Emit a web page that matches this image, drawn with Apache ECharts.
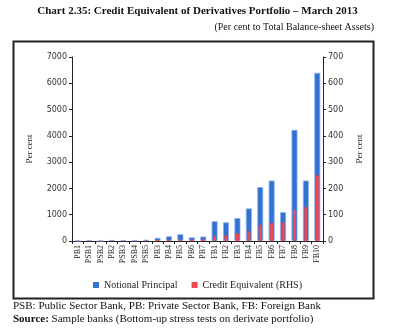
<!DOCTYPE html>
<html>
<head>
<meta charset="utf-8">
<script src="https://cdn.jsdelivr.net/npm/echarts@6/dist/echarts.min.js"></script>
<style>
html,body{margin:0;padding:0;background:#fff;}
#c{width:395px;height:334px;}
</style>
</head>
<body>
<div id="c"></div>
<script>
const categories = ['PB1','PSB1','PSB2','PB2','PSB3','PSB4','PSB5','PB3','PB4','PB5','PB6','PB7','FB1','FB2','FB3','FB4','FB5','FB6','FB7','FB8','FB9','FB10'];
const notionalPrincipal = [10,30,10,40,30,20,50,120,180,260,140,170,750,710,870,1240,2050,2300,1100,4230,2300,6400];
const creditEquivalent = [1,1,1,2,1,1,2,4,5,6,5,6,20,22,29,37,61,68,70,118,129,250];
const leftTicks = {min:0, max:7000, interval:1000};
const rightTicks = {min:0, max:700, interval:100};

const serif = '"Liberation Serif", "DejaVu Serif", serif';
const sans = '"DejaVu Sans", Verdana, sans-serif';

const chart = echarts.init(document.getElementById('c'), null, {renderer:'canvas'});
chart.setOption({
  animation:false,
  backgroundColor:'#fff',
  graphic:[
    {type:'rect', shape:{x:13.5,y:41.5,width:360,height:257}, style:{fill:'none',stroke:'#222',lineWidth:2}, z:-1},
    {type:'text', left:'center', top:6, style:{text:'Chart 2.35: Credit Equivalent of Derivatives Portfolio \u2013 March 2013', font:'bold 11px '+serif, fill:'#111'}},
    {type:'text', right:21, top:22, style:{text:'(Per cent to Total Balance-sheet Assets)', font:'10px '+serif, fill:'#111'}},
    {type:'text', left:13, top:301, style:{text:'PSB: Public Sector Bank, PB: Private Sector Bank, FB: Foreign Bank', font:'11px '+serif, fill:'#111'}},
    {type:'text', left:13, top:314, style:{text:'{b|Source:} Sample banks (Bottom-up stress tests on derivate portfolio)', font:'11px '+serif, fill:'#111', rich:{b:{font:'bold 11px '+serif, fill:'#111'}}}}
  ],
  legend:{
    top:275, left:'center', itemWidth:6, itemHeight:6, itemGap:14,
    itemStyle:{borderWidth:0},
    textStyle:{fontFamily:serif, fontSize:10, color:'#222'},
    data:[{name:'Notional Principal', icon:'rect'},{name:'Credit Equivalent (RHS)', icon:'rect'}]
  },
  grid:{left:72, right:72, top:57, bottom:93},
  xAxis:[
    {type:'category', data:categories, axisLine:{lineStyle:{color:'#222'}},
     axisTick:{show:true, length:3, lineStyle:{color:'#222'}},
     axisLabel:{rotate:90, interval:0, fontFamily:serif, fontSize:8, color:'#222', margin:4}},
    {type:'category', data:categories, show:false}
  ],
  yAxis:[
    {type:'value', min:leftTicks.min, max:leftTicks.max, interval:leftTicks.interval,
     name:'Per cent', nameLocation:'middle', nameRotate:90, nameGap:38,
     nameTextStyle:{fontFamily:serif, fontSize:9, color:'#222'},
     axisLine:{show:true, lineStyle:{color:'#222'}}, axisTick:{show:true, length:3, lineStyle:{color:'#222'}},
     splitLine:{show:false}, axisLabel:{fontFamily:sans, fontSize:8, color:'#333', margin:5, formatter:v=>String(v)}},
    {type:'value', min:rightTicks.min, max:rightTicks.max, interval:rightTicks.interval, position:'right',
     name:'Per cent', nameLocation:'middle', nameRotate:90, nameGap:32,
     nameTextStyle:{fontFamily:serif, fontSize:9, color:'#222'},
     axisLine:{show:true, lineStyle:{color:'#222'}}, axisTick:{show:true, length:3, lineStyle:{color:'#222'}},
     splitLine:{show:false}, axisLabel:{fontFamily:sans, fontSize:8, color:'#333', margin:5, formatter:v=>String(v)}}
  ],
  series:[
    {name:'Notional Principal', type:'bar', xAxisIndex:0, yAxisIndex:0, data:notionalPrincipal, barWidth:6,
     itemStyle:{color:'#2f72d2', borderColor:'#8fb2ea', borderWidth:0.8}},
    {name:'Credit Equivalent (RHS)', type:'bar', xAxisIndex:1, yAxisIndex:1, data:creditEquivalent, barWidth:3,
     itemStyle:{color:'#ee4652'}, z:3}
  ]
});
</script>
</body>
</html>
